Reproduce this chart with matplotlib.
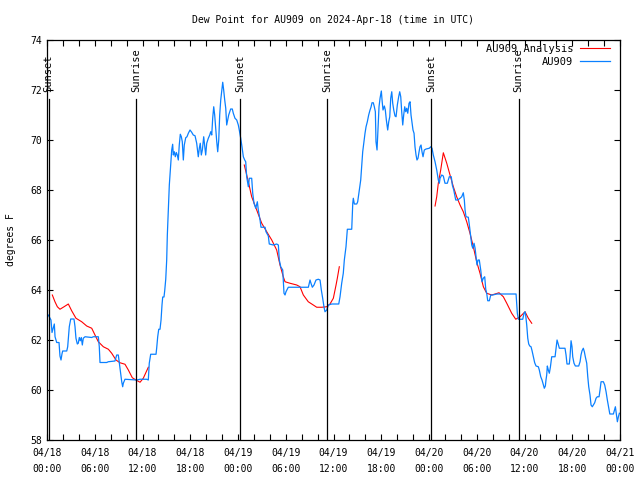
import numpy as np
import pandas as pd
import matplotlib
matplotlib.use("Agg")
import matplotlib.pyplot as plt
import matplotlib.dates as mdates
from matplotlib.ticker import MultipleLocator

plt.rcParams['font.family'] = ['DejaVu Sans Mono']
plt.rcParams['font.size'] = 7

t0 = pd.Timestamp('2024-04-18 00:00')

# observed dew point (hours after 04/18 00:00 UTC, deg F)
obs_hours = [0.16, 0.50, 0.63, 0.92, 1.01, 1.22, 1.51, 1.63, 1.76, 1.88, 1.97, 2.48, 2.60, 2.80, 2.98,
             3.39, 3.52, 3.64, 3.81, 3.93, 4.06, 4.18, 4.31, 4.44, 4.56, 4.78, 5.62, 5.82, 6.45, 6.57,
             6.66, 7.50, 7.70, 8.54, 8.76, 8.96, 9.09, 9.26, 9.39, 9.51, 9.59, 9.80, 11.27, 11.69, 12.53,
             12.73, 12.85, 13.03, 13.70, 13.78, 13.91, 14.04, 14.20, 14.33, 14.45, 14.54, 14.70, 14.79,
             14.92, 15.04, 15.12, 15.24, 15.37, 15.54, 15.67, 15.79, 15.87, 16.00, 16.12, 16.25, 16.37,
             16.50, 16.62, 16.75, 16.88, 17.00, 17.13, 17.25, 17.43, 17.59, 17.76, 17.97, 18.18, 18.38,
             18.60, 18.81, 19.01, 19.14, 19.26, 19.39, 19.52, 19.69, 19.82, 19.94, 20.07, 20.27, 20.45,
             20.57, 20.70, 20.82, 20.95, 21.07, 21.20, 21.33, 21.45, 21.58, 21.70, 21.83, 21.95, 22.08,
             22.20, 22.33, 22.46, 22.58, 22.71, 22.83, 23.08, 23.28, 23.41, 23.62, 23.84, 24.04, 24.16,
             24.34, 24.50, 24.67, 24.84, 24.97, 25.09, 25.30, 25.42, 25.72, 25.85, 26.01, 26.23, 26.43,
             26.55, 26.77, 26.89, 27.40, 27.52, 27.81, 27.93, 28.44, 28.86, 29.07, 29.19, 29.37, 29.49,
             29.62, 29.69, 29.78, 29.91, 30.03, 30.32, 32.84, 33.05, 33.17, 33.34, 33.55, 33.80, 34.09,
             34.31, 34.47, 34.64, 34.81, 34.93, 35.15, 35.35, 35.78, 36.66, 36.82, 37.03, 37.23, 37.36,
             37.57, 37.74, 38.29, 38.42, 38.49, 38.62, 38.92, 39.04, 39.24, 39.42, 39.55, 39.67, 39.83,
             39.96, 40.09, 40.25, 40.42, 40.59, 40.71, 40.84, 41.00, 41.13, 41.26, 41.34, 41.47, 41.59,
             41.72, 41.85, 42.01, 42.10, 42.22, 42.39, 42.51, 42.64, 42.81, 42.94, 43.07, 43.19, 43.32,
             43.44, 43.57, 43.73, 43.86, 44.02, 44.19, 44.32, 44.45, 44.57, 44.70, 44.82, 44.95, 45.08,
             45.20, 45.33, 45.49, 45.62, 45.74, 45.87, 45.99, 46.12, 46.24, 46.37, 46.49, 46.62, 46.75,
             46.87, 47.00, 47.12, 47.25, 47.41, 47.63, 48.04, 48.22, 48.38, 48.54, 48.76, 48.97, 49.17,
             49.30, 49.39, 49.60, 49.80, 50.01, 50.30, 50.55, 50.80, 50.93, 51.11, 51.23, 51.36, 51.61,
             51.90, 52.11, 52.31, 52.44, 52.53, 52.65, 52.94, 53.07, 53.24, 53.37, 53.50, 53.66, 53.79,
             53.91, 54.03, 54.16, 54.32, 54.50, 54.66, 54.82, 55.00, 55.13, 55.25, 55.38, 55.58, 55.76,
             56.01, 56.51, 58.94, 59.02, 59.10, 59.23, 59.78, 59.94, 60.07, 60.16, 60.28, 60.41, 60.53,
             60.66, 60.82, 60.95, 61.11, 61.28, 61.45, 61.74, 61.86, 62.04, 62.20, 62.37, 62.49, 62.62,
             62.70, 62.79, 62.87, 62.99, 63.12, 63.25, 63.42, 63.84, 63.96, 64.09, 64.21, 64.38, 65.09,
             65.22, 65.34, 65.63, 65.72, 65.85, 65.97, 66.06, 66.22, 66.39, 66.81, 66.98, 67.10, 67.23,
             67.39, 67.52, 67.64, 67.82, 67.95, 68.07, 68.23, 68.36, 68.52, 68.65, 68.82, 68.99, 69.15,
             69.37, 69.49, 69.62, 69.91, 70.08, 70.25, 70.41, 70.59, 70.72, 71.17, 71.30, 71.42, 71.55,
             71.67, 71.80, 71.92]
obs_dewpt = [63.0, 62.8, 62.3, 62.64, 62.13, 61.9, 61.9, 61.36, 61.2, 61.44, 61.56, 61.56, 61.73, 62.53, 62.84,
             62.84, 62.53, 62.07, 61.84, 61.87, 62.1, 61.97, 62.1, 61.8, 62.07, 62.13, 62.1, 62.13, 62.13, 61.73,
             61.1, 61.1, 61.13, 61.16, 61.4, 61.4, 61.07, 60.64, 60.33, 60.13, 60.27, 60.43, 60.4, 60.43, 60.43,
             60.4, 61.07, 61.43, 61.43, 61.67, 62.13, 62.43, 62.43, 62.8, 63.4, 63.72, 63.72, 63.97,
             64.43, 65.2, 66.2, 67.2, 68.2, 69.0, 69.6, 69.83, 69.4, 69.53, 69.33, 69.5, 69.4,
             69.2, 69.8, 70.23, 70.13, 69.93, 69.2, 69.8, 70.09, 70.13, 70.27, 70.4, 70.31, 70.2,
             70.17, 69.87, 69.33, 69.67, 69.87, 69.4, 69.6, 70.13, 69.73, 69.4, 69.87, 70.07, 70.2,
             70.33, 70.2, 70.87, 71.33, 71.0, 70.47, 69.93, 69.53, 70.0, 71.0, 71.6, 71.93, 72.31,
             72.0, 71.6, 71.27, 70.6, 70.8, 71.0, 71.24, 71.24, 71.07, 70.87, 70.8, 70.6, 70.4,
             70.07, 69.73, 69.33, 69.2, 69.13, 68.53, 68.13, 68.47, 68.47, 67.87, 67.47, 67.27, 67.53,
             67.2, 66.8, 66.51, 66.51, 66.33, 66.16, 65.84, 65.8, 65.84, 65.8, 65.2, 64.93, 64.87,
             64.8, 64.4, 63.87, 63.8, 63.93, 64.11, 64.11, 64.4, 64.27, 64.11, 64.2, 64.4, 64.43,
             64.4, 64.0, 63.67, 63.31, 63.13, 63.2, 63.4, 63.44, 63.44, 63.73, 64.27, 64.67, 65.2,
             65.73, 66.43, 66.43, 67.47, 67.67, 67.44, 67.44, 67.53, 68.0, 68.4, 69.0, 69.53, 69.93,
             70.27, 70.53, 70.73, 71.0, 71.2, 71.31, 71.49, 71.49, 71.33, 71.13, 69.93, 69.6, 70.4,
             71.33, 71.67, 71.96, 71.6, 71.2, 71.36, 71.2, 70.8, 70.4, 70.73, 70.93, 71.67, 71.93,
             71.47, 71.2, 70.96, 70.93, 71.4, 71.73, 71.93, 71.73, 71.13, 70.6, 71.0, 71.33, 71.13,
             71.27, 71.07, 71.47, 71.53, 71.0, 70.67, 70.4, 70.27, 69.73, 69.4, 69.2, 69.27, 69.53,
             69.73, 69.8, 69.53, 69.33, 69.6, 69.64, 69.67, 69.73, 69.67, 69.4, 69.13, 68.8, 68.4,
             68.27, 68.47, 68.6, 68.56, 68.27, 68.27, 68.53, 68.53, 68.2, 68.0, 67.8, 67.6, 67.6,
             67.67, 67.73, 67.89, 67.6, 67.2, 66.93, 66.91, 66.6, 66.13, 65.8, 65.67, 65.87, 65.67,
             65.33, 65.0, 65.2, 65.2, 64.8, 64.33, 64.47, 64.53, 64.03, 63.87, 63.57, 63.57, 63.8,
             63.8, 63.84, 63.84, 63.47, 63.07, 62.83, 62.83, 63.07, 63.13, 62.96, 62.6, 62.07, 61.84,
             61.76, 61.73, 61.57, 61.33, 61.09, 60.96, 60.93, 60.8, 60.53, 60.4, 60.2, 60.07, 60.16,
             60.4, 60.6, 60.96, 60.8, 60.67, 60.91, 61.33, 61.33, 61.67, 62.0, 61.87, 61.67, 61.67,
             61.4, 61.04, 61.04, 61.33, 61.97, 61.73, 61.33, 61.07, 60.96, 60.96, 61.13, 61.4, 61.57,
             61.67, 61.53, 61.33, 61.07, 60.53, 60.13, 59.8, 59.4, 59.33, 59.4, 59.49, 59.67, 59.73,
             59.73, 60.0, 60.33, 60.33, 60.2, 59.93, 59.6, 59.27, 59.04, 59.04, 59.2, 59.33, 59.0,
             58.73, 58.93, 59.07]

# analysis, three overnight pieces
ana1_hours = [0.67, 1.0, 1.3, 1.63, 2.14, 2.68, 3.1, 3.64, 4.36, 4.99, 5.62, 6.03, 6.45, 7.08, 7.71,
              8.13, 8.67, 9.17, 9.8, 10.22, 10.72, 11.18, 11.69, 12.1, 12.73]
ana1_dewpt = [63.8, 63.53, 63.33, 63.23, 63.33, 63.44, 63.17, 62.87, 62.73, 62.56, 62.47, 62.2, 61.93, 61.73, 61.63,
              61.47, 61.2, 61.09, 61.03, 60.8, 60.49, 60.4, 60.31, 60.47, 60.91]
ana2_hours = [24.79, 25.3, 25.72, 26.35, 26.98, 27.61, 28.24, 28.86, 29.28, 29.69, 29.91, 30.53, 31.38, 31.79,
              32.21, 32.83, 33.46, 33.89, 34.52, 35.15, 35.56, 35.98, 36.32, 36.48, 36.73]
ana2_dewpt = [69.0, 68.33, 67.73, 67.2, 66.67, 66.33, 66.0, 65.6, 65.0, 64.53, 64.33, 64.27, 64.2, 64.13,
              63.8, 63.53, 63.4, 63.31, 63.31, 63.33, 63.44, 63.67, 64.2, 64.47, 64.93]
ana3_hours = [48.76, 48.97, 49.17, 49.47, 49.8, 50.23, 50.64, 51.06, 51.48, 51.9, 52.31, 52.74, 53.15, 53.57,
              53.99, 54.41, 54.83, 55.25, 55.88, 56.3, 56.8, 57.34, 57.77, 58.39, 58.9, 59.44, 60.07, 60.48, 60.91]
ana3_dewpt = [67.36, 67.73, 68.27, 68.8, 69.49, 69.07, 68.6, 68.13, 67.73, 67.4, 67.13, 66.73, 66.27, 65.73,
              65.13, 64.67, 64.13, 63.87, 63.8, 63.84, 63.89, 63.73, 63.47, 63.07, 62.83, 62.93, 63.13, 62.87, 62.67]

sun_hours = [0.2, 11.2, 24.25, 35.2, 48.25, 59.25]
sun_labels = ['Sunset', 'Sunrise', 'Sunset', 'Sunrise', 'Sunset', 'Sunrise']


def to_time(hours):
    return (t0 + pd.to_timedelta(np.asarray(hours, dtype=float), unit='h')).to_pydatetime()


fig = plt.figure(figsize=(6.4, 4.8), dpi=100)
ax = fig.add_axes([47/640, 40/480, 573/640, 400/480])

segs = [(ana1_hours, ana1_dewpt), (ana2_hours, ana2_dewpt), (ana3_hours, ana3_dewpt)]
for i, (hh, vv) in enumerate(segs):
    ax.plot(to_time(hh), vv, color='#ff0000', lw=0.8, label='AU909 Analysis' if i == 0 else None)
ax.plot(to_time(obs_hours), obs_dewpt, color='#0a80ff', lw=0.9, label='AU909')

for h, lab in zip(sun_hours, sun_labels):
    t = (t0 + pd.Timedelta(hours=h)).to_pydatetime()
    ax.axvline(t, ymin=0, ymax=0.8525, color='black', lw=0.9)
    ax.text(t, 0.87, lab, transform=ax.get_xaxis_transform(), rotation=90,
            ha='center', va='bottom', fontsize=7.5)

ax.set_xlim(t0.to_pydatetime(), (t0 + pd.Timedelta(hours=72)).to_pydatetime())
ax.set_ylim(58, 74)
ax.xaxis.set_major_locator(mdates.HourLocator(byhour=[0, 6, 12, 18]))
ax.xaxis.set_minor_locator(mdates.HourLocator(byhour=range(0, 24, 2)))
ax.xaxis.set_major_formatter(mdates.DateFormatter('%m/%d\n%H:%M'))
ax.yaxis.set_major_locator(MultipleLocator(2))
ax.tick_params(which='both', direction='in', length=4, width=0.8, top=True, right=True, labelsize=7)
ax.tick_params(axis='x', pad=6)
for lbl in ax.get_xticklabels():
    lbl.set_linespacing(1.75)
for s in ax.spines.values():
    s.set_linewidth(0.9)

ax.set_title('Dew Point for AU909 on 2024-Apr-18 (time in UTC)', fontsize=7, pad=12)
ax.set_ylabel('degrees F', fontsize=7, labelpad=10)
ax.legend(loc='upper right', bbox_to_anchor=(0.9825, 0.99), frameon=False, markerfirst=False,
          fontsize=7.5, handlelength=2.9, borderaxespad=0, borderpad=0, labelspacing=0.25,
          handletextpad=0.6)

fig.savefig('out.png', dpi=100)
